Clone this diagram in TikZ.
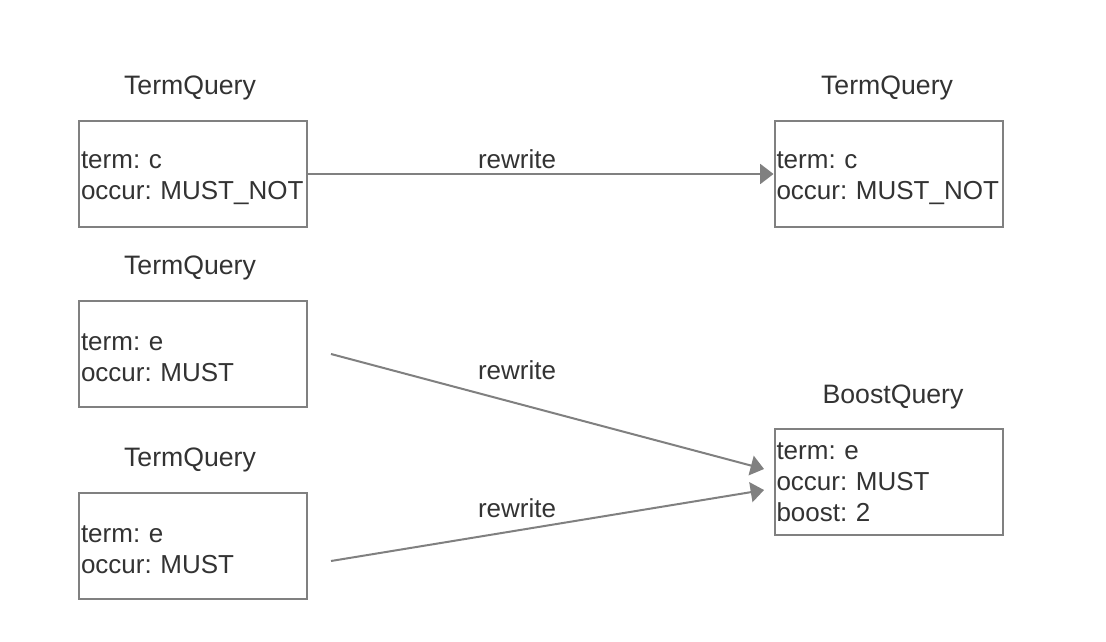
\documentclass[tikz,border=0pt]{standalone}
\usepackage{fontspec}
\setmainfont{Liberation Sans}
\usetikzlibrary{arrows.meta}
\definecolor{linegray}{HTML}{808080}
\definecolor{textgray}{HTML}{333333}
\frenchspacing
\newcommand{\topstrut}{\rule{0pt}{19.5pt}}
\begin{document}
\begin{tikzpicture}[x=0.75pt,y=-0.75pt,
  qbox/.style={draw=linegray,line width=1.5pt,minimum width=171pt,minimum height=79.5pt,
    text width=168pt,inner xsep=1.5pt,inner ysep=0pt,align=left,text=textgray,
    font=\fontsize{19.5pt}{23.25pt}\selectfont},
  qtitle/.style={anchor=base,text=textgray,inner sep=0pt,font=\fontsize{20pt}{24pt}\selectfont},
  conn/.style={draw=linegray,line width=1.5pt,-{Triangle[length=10pt,width=15pt]}},
  lbl/.style={anchor=base,text=textgray,inner sep=0pt,font=\fontsize{19.5pt}{23.25pt}\selectfont}]
\useasboundingbox[fill=white] (0,0) rectangle (1106,642);

% left boxes
\node[qbox] (l1) at (193,174) {\topstrut term:~c\\occur:~MUST\_NOT};
\node[qbox] (l2) at (193,353.5) {\topstrut term:~e\\occur:~MUST};
\node[qbox] (l3) at (193,545.5) {\topstrut term:~e\\occur:~MUST};
% right boxes
\node[qbox] (r1) at (888.5,174) {\topstrut term:~c\\occur:~MUST\_NOT};
\node[qbox] (r2) at (888.5,482) {term:~e\\occur:~MUST\\boost:~2};

% titles
\node[qtitle] (t1) at (190,94) {TermQuery};
\node[qtitle] (t2) at (190,274) {TermQuery};
\node[qtitle] (t3) at (190,466) {TermQuery};
\node[qtitle] (t4) at (887,94) {TermQuery};
\node[qtitle] (t5) at (893,403) {BoostQuery};

% connectors
\coordinate (s2) at (331,354);
\coordinate (e2) at (764,469);
\coordinate (s3) at (331,561);
\coordinate (e3) at (764,490);
\draw[conn] (l1.east) -- (r1.west);
\draw[conn] (s2) -- (e2);
\draw[conn] (s3) -- (e3);

% labels
\node[lbl] (w1) at (517,168) {rewrite};
\node[lbl] (w2) at (517,379) {rewrite};
\node[lbl] (w3) at (517,517) {rewrite};
\end{tikzpicture}
\end{document}
